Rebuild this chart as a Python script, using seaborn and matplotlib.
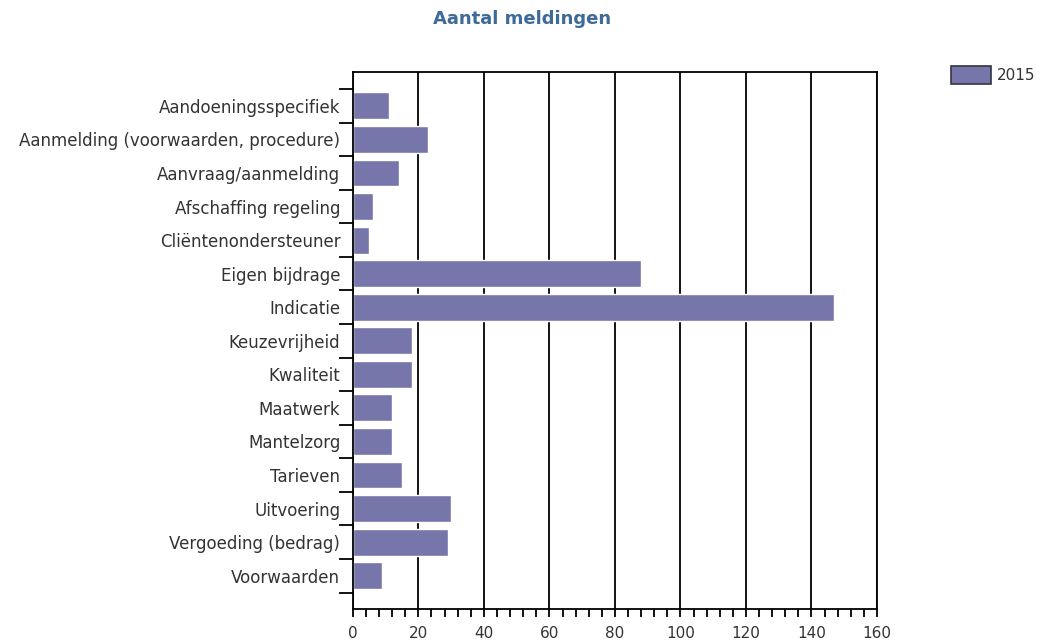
import pandas as pd
import matplotlib.pyplot as plt
import seaborn as sns
from matplotlib.ticker import MultipleLocator, FixedLocator
from matplotlib.patches import Patch

# data
categories = [
    "Aandoeningsspecifiek",
    "Aanmelding (voorwaarden, procedure)",
    "Aanvraag/aanmelding",
    "Afschaffing regeling",
    "Cliëntenondersteuner",
    "Eigen bijdrage",
    "Indicatie",
    "Keuzevrijheid",
    "Kwaliteit",
    "Maatwerk",
    "Mantelzorg",
    "Tarieven",
    "Uitvoering",
    "Vergoeding (bedrag)",
    "Voorwaarden",
]
values_2015 = [11, 23, 14, 6, 5, 88, 147, 18, 18, 12, 12, 15, 30, 29, 9]
series_name = "2015"

df = pd.DataFrame({"categorie": categories, "aantal": values_2015})

sns.set_style("white")
plt.rcParams["font.family"] = ["DejaVu Sans"]

bar_color = "#7676AA"
text_color = "#333333"

fig = plt.figure(figsize=(10.44, 6.4), dpi=100)
ax = fig.add_axes([0.338, 0.048, 0.502, 0.839])

sns.barplot(data=df, x="aantal", y="categorie", orient="h", color=bar_color,
            saturation=1, width=0.8, ax=ax)

# axes ranges / ticks
ax.set_xlim(0, 160)
ax.set_ylim(15, -1)
ax.xaxis.set_major_locator(MultipleLocator(20))
ax.xaxis.set_minor_locator(MultipleLocator(4))
ax.yaxis.set_minor_locator(FixedLocator([i - 0.5 for i in range(len(categories) + 1)]))

ax.grid(axis="x", which="major", color="black", linewidth=1.3)
ax.set_axisbelow(True)

ax.tick_params(axis="y", which="major", left=True, length=0, pad=9,
               labelsize=12, labelcolor=text_color)
ax.tick_params(axis="y", which="minor", left=True, length=10, width=1.3,
               color="black", direction="out")
ax.tick_params(axis="x", which="major", bottom=True, length=6, width=1.3,
               color="black", direction="out", labelsize=11,
               labelcolor=text_color, pad=6)
ax.tick_params(axis="x", which="minor", bottom=True, length=6, width=1.3,
               color="black", direction="out")

for side in ["left", "right", "top", "bottom"]:
    ax.spines[side].set_visible(True)
    ax.spines[side].set_color("black")
    ax.spines[side].set_linewidth(1.3)

ax.set_xlabel("")
ax.set_ylabel("")

fig.suptitle("Aantal meldingen", x=0.5, y=0.985, fontsize=13, fontweight="bold",
             color="#3E6A9A")

handle = Patch(facecolor=bar_color, edgecolor="#333344", linewidth=1.2)
fig.legend([handle], [series_name], loc="upper left", bbox_to_anchor=(0.898, 0.918),
           frameon=False, fontsize=11, handlelength=2.6, handleheight=1.4,
           handletextpad=0.4, labelcolor=text_color)

fig.savefig("out.png", dpi=100)
